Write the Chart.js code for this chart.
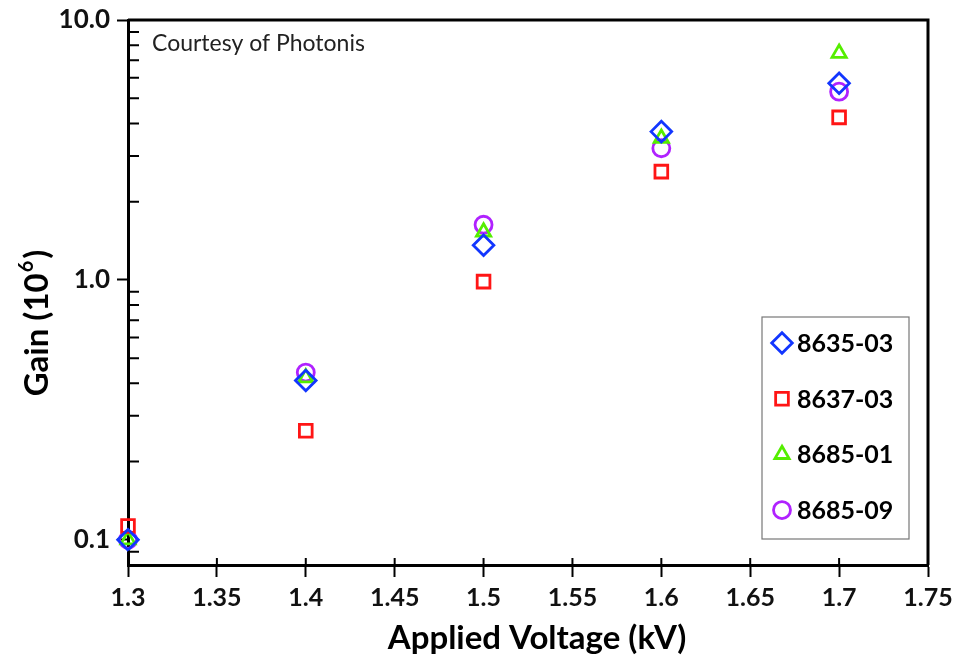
<!DOCTYPE html>
<html>
<head>
<meta charset="utf-8">
<script src="https://cdn.jsdelivr.net/npm/chart.js@4.4.1/dist/chart.umd.min.js"></script>
<style>
  html, body { margin: 0; padding: 0; background: #fff; }
  #wrap { width: 954px; height: 660px; }
</style>
</head>
<body>
<div id="wrap"><canvas id="gainChart" width="954" height="660"></canvas></div>
<script>
'use strict'

// applied voltage in kV
const voltages = [1.3, 1.4, 1.5, 1.6, 1.7];

// gain in units of 10^6, one array per tube
const gain863503 = [0.100, 0.41, 1.36, 3.72, 5.71];
const gain863703 = [0.113, 0.263, 0.985, 2.61, 4.22];
const gain868501 = [0.100, 0.42, 1.53, 3.51, 7.45];
const gain868509 = [0.100, 0.44, 1.63, 3.21, 5.30];

const tubeNames = ['8635-03', '8637-03', '8685-01', '8685-09'];

const xTicks = [1.3, 1.35, 1.4, 1.45, 1.5, 1.55, 1.6, 1.65, 1.7, 1.75];
const yMajorTicks = [0.1, 1, 10];
const yMajorLabels = ['0.1', '1.0', '10.0'];
const yMinorTicks = [0.09, 0.2, 0.3, 0.4, 0.5, 0.6, 0.7, 0.8, 0.9, 2, 3, 4, 5, 6, 7, 8, 9];

const FONT = 'Lato, "Open Sans", sans-serif';

function points(ys) {
  return voltages.map((v, i) => ({ x: v, y: ys[i] }));
}

const styles = [
  { color: '#1236ff', style: 'rectRot', radius: 10.3 },
  { color: '#ff1515', style: 'rect', radius: 9 },
  { color: '#55ee00', style: 'triangle', radius: 8.2 },
  { color: '#b022ff', style: 'circle', radius: 8.5 },
];
const series = [gain863503, gain863703, gain868501, gain868509];

const datasets = series.map((ys, i) => ({
  label: tubeNames[i],
  data: points(ys),
  pointStyle: styles[i].style,
  pointRadius: styles[i].radius,
  pointBorderColor: styles[i].color,
  pointBackgroundColor: 'rgba(0,0,0,0)',
  pointBorderWidth: 2.8,
  showLine: false,
  clip: false,
}));

// frame, inner ticks, titles, note and legend box
const extras = {
  id: 'extras',
  afterDraw(chart) {
    const ctx = chart.ctx;
    const a = chart.chartArea;
    const xs = chart.scales.x;
    const ys = chart.scales.y;
    ctx.save();
    ctx.strokeStyle = '#000';
    ctx.lineWidth = 3;
    ctx.beginPath();
    ctx.moveTo(a.left, a.top);
    ctx.lineTo(a.right, a.top);
    ctx.lineTo(a.right, a.bottom);
    ctx.stroke();

    ctx.lineWidth = 2;
    ctx.beginPath();
    xTicks.forEach(v => {
      const px = xs.getPixelForValue(v);
      ctx.moveTo(px, a.bottom);
      ctx.lineTo(px, a.bottom - 7);
    });
    yMinorTicks.forEach(v => {
      const py = ys.getPixelForValue(v);
      ctx.moveTo(a.left, py);
      ctx.lineTo(a.left + 11, py);
    });
    ctx.stroke();

    ctx.fillStyle = '#222';
    ctx.font = '23px ' + FONT;
    ctx.textBaseline = 'alphabetic';
    ctx.textAlign = 'left';
    ctx.fillText('Courtesy of Photonis', 152, 51);

    // x axis title
    ctx.fillStyle = '#000';
    ctx.font = 'bold 33px ' + FONT;
    ctx.textAlign = 'center';
    ctx.fillText('Applied Voltage (kV)', 537, 649);

    // legend
    const bx = 762, by = 317, bw = 147, bh = 222;
    ctx.strokeStyle = '#777';
    ctx.lineWidth = 1.2;
    ctx.strokeRect(bx, by, bw, bh);
    ctx.textAlign = 'left';
    ctx.textBaseline = 'middle';
    chart.data.datasets.forEach((ds, i) => {
      const cy = by + 26 + i * 55.7;
      ctx.strokeStyle = ds.pointBorderColor;
      ctx.fillStyle = 'rgba(0,0,0,0)';
      ctx.lineWidth = ds.pointBorderWidth;
      Chart.helpers.drawPoint(ctx, {
        pointStyle: ds.pointStyle,
        radius: ds.pointRadius,
        borderWidth: ds.pointBorderWidth,
        rotation: 0,
      }, 782, cy);
      ctx.fillStyle = '#000';
      ctx.font = 'bold 25px ' + FONT;
      ctx.fillText(ds.label, 797, cy + 1);
    });

    // y axis title with superscript exponent
    ctx.translate(48, 323);
    ctx.rotate(-Math.PI / 2);
    ctx.fillStyle = '#000';
    ctx.textAlign = 'left';
    ctx.textBaseline = 'alphabetic';
    ctx.font = 'bold 33px ' + FONT;
    const p1 = 'Gain (10';
    const w1 = ctx.measureText(p1).width;
    ctx.font = 'bold 20px ' + FONT;
    const w2 = ctx.measureText('6').width;
    ctx.font = 'bold 33px ' + FONT;
    const w3 = ctx.measureText(')').width;
    const start = -(w1 + w2 + 3 + w3) / 2;
    ctx.fillText(p1, start, 0);
    ctx.font = 'bold 20px ' + FONT;
    ctx.fillText('6', start + w1 + 1, -15);
    ctx.font = 'bold 33px ' + FONT;
    ctx.fillText(')', start + w1 + w2 + 3, 0);
    ctx.restore();
  }
};

new Chart(document.getElementById('gainChart'), {
  type: 'scatter',
  data: { datasets: datasets },
  options: {
    responsive: false,
    animation: false,
    layout: { padding: { top: 20, right: 26, left: 0, bottom: 0 } },
    plugins: { legend: { display: false }, tooltip: { enabled: false } },
    scales: {
      x: {
        type: 'linear',
        min: 1.3,
        max: 1.75,
        afterBuildTicks: s => { s.ticks = xTicks.map(v => ({ value: v })); },
        afterFit: s => { s.height = 95; s.paddingLeft = 0; s.paddingRight = 0; },
        ticks: {
          color: '#111',
          font: { family: FONT, size: 25, weight: 'bold' },
          padding: 6,
          maxRotation: 0,
          callback: v => String(+v.toFixed(2)),
        },
        grid: { drawOnChartArea: false, tickLength: 12, tickWidth: 2, color: '#000' },
        border: { color: '#000', width: 3 },
      },
      y: {
        type: 'logarithmic',
        min: 0.08,
        max: 10,
        afterBuildTicks: s => { s.ticks = yMajorTicks.map(v => ({ value: v, major: true })); },
        afterFit: s => { s.width = 128; s.paddingTop = 0; s.paddingBottom = 0; },
        ticks: {
          color: '#111',
          font: { family: FONT, size: 26, weight: 'bold' },
          padding: 7,
          callback: v => yMajorLabels[yMajorTicks.indexOf(v)],
        },
        grid: { drawOnChartArea: false, tickLength: 11, tickWidth: 2, color: '#000' },
        border: { color: '#000', width: 3 },
      },
    },
  },
  plugins: [extras],
});
</script>
</body>
</html>
